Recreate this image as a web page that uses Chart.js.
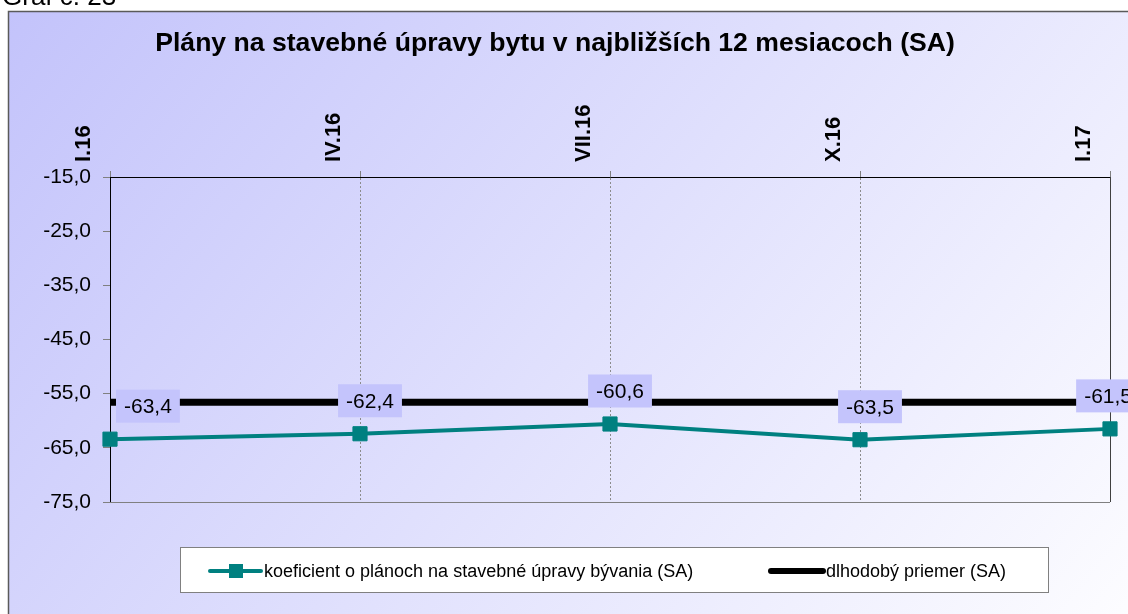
<!DOCTYPE html>
<html>
<head>
<meta charset="utf-8">
<script src="https://cdn.jsdelivr.net/npm/chart.js@4"></script>
<style>
  html, body { margin: 0; padding: 0; background: #fff; }
  canvas { display: block; }
</style>
</head>
<body>
<canvas id="chart" width="1128" height="614"></canvas>
<script>
// data
const labels = ['I.16', 'IV.16', 'VII.16', 'X.16', 'I.17'];
const koeficient = [-63.4, -62.4, -60.6, -63.5, -61.5];
const priemer = [-56.6, -56.6, -56.6, -56.6, -56.6];
const yMin = -75;
const yMax = -15;
const yStep = 10;

const titleText = 'Plány na stavebné úpravy bytu v najbližších 12 mesiacoch (SA)';
const seriesNames = ['koeficient o plánoch na stavebné úpravy bývania (SA)', 'dlhodobý priemer (SA)'];

const FONT = '"Liberation Sans", Arial, sans-serif';
Chart.defaults.font.family = FONT;
Chart.defaults.color = '#000';

const fmt = v => Number(v).toFixed(1).replace('.', ',');

const TITLE_SIZE = 26.6;
const TITLE_PAD = 28;

// page background, outer frame and the caption above it
const background = {
  id: 'background',
  beforeDraw(chart) {
    const ctx = chart.ctx;
    ctx.save();
    ctx.fillStyle = '#fff';
    ctx.fillRect(0, 0, chart.width, chart.height);
    const g = ctx.createLinearGradient(8, 11, 1000, 800);
    g.addColorStop(0, '#c3c3fb');
    g.addColorStop(1, '#fdfdff');
    ctx.fillStyle = g;
    ctx.fillRect(8, 11, chart.width, chart.height);
    ctx.strokeStyle = '#5a5a5a';
    ctx.lineWidth = 1.5;
    ctx.strokeRect(8.5, 11.5, chart.width, chart.height);
    ctx.fillStyle = '#000';
    ctx.font = '26px ' + FONT;
    ctx.textBaseline = 'alphabetic';
    ctx.fillText('Graf č. 23', 2, 5);
    ctx.restore();
  }
};

// bottom and right edges of the plot area
const frame = {
  id: 'frame',
  beforeDatasetsDraw(chart) {
    const {ctx, chartArea: a} = chart;
    ctx.save();
    ctx.lineWidth = 1;
    ctx.strokeStyle = '#808080';
    ctx.beginPath();
    ctx.moveTo(a.left, a.bottom + 0.5);
    ctx.lineTo(a.right, a.bottom + 0.5);
    ctx.stroke();
    ctx.strokeStyle = '#404040';
    ctx.beginPath();
    ctx.moveTo(a.right + 0.5, a.top);
    ctx.lineTo(a.right + 0.5, a.bottom);
    ctx.stroke();
    ctx.restore();
  }
};

// value boxes above the teal points
const valueLabels = {
  id: 'valueLabels',
  afterDatasetsDraw(chart) {
    const {ctx, chartArea: a} = chart;
    const meta = chart.getDatasetMeta(0);
    ctx.save();
    ctx.font = '21px ' + FONT;
    ctx.textBaseline = 'middle';
    ctx.textAlign = 'center';
    meta.data.forEach((pt, i) => {
      const txt = fmt(koeficient[i]);
      const w = ctx.measureText(txt).width + 16;
      const h = 33;
      let left = pt.x + 10 - w / 2;
      if (left < a.left + 6) left = a.left + 6;
      if (left + w > a.right + 30) left = a.right + 30 - w;
      const top = pt.y - 33 - h / 2;
      ctx.fillStyle = '#c4c4fc';
      ctx.fillRect(left, top, w, h);
      ctx.fillStyle = '#000';
      ctx.fillText(txt, left + w / 2, top + h / 2 + 1);
    });
    ctx.restore();
  }
};

// legend box at the bottom
const legendBox = {
  id: 'legendBox',
  afterDraw(chart) {
    const ctx = chart.ctx;
    ctx.save();
    ctx.fillStyle = '#fff';
    ctx.fillRect(180.5, 547.5, 868, 45);
    ctx.strokeStyle = '#808080';
    ctx.lineWidth = 1;
    ctx.strokeRect(180.5, 547.5, 868, 45);
    const y = 571;
    ctx.lineCap = 'round';
    ctx.strokeStyle = '#008080';
    ctx.lineWidth = 4;
    ctx.beginPath(); ctx.moveTo(210, y); ctx.lineTo(261, y); ctx.stroke();
    ctx.fillStyle = '#008080';
    ctx.fillRect(229, y - 7, 14, 14);
    ctx.strokeStyle = '#000';
    ctx.lineWidth = 6;
    ctx.beginPath(); ctx.moveTo(771, y); ctx.lineTo(823, y); ctx.stroke();
    ctx.fillStyle = '#000';
    ctx.font = '18px ' + FONT;
    ctx.textBaseline = 'middle';
    ctx.fillText(seriesNames[0], 264, y + 1);
    ctx.fillText(seriesNames[1], 826, y + 1);
    ctx.restore();
  }
};

new Chart(document.getElementById('chart'), {
  type: 'line',
  data: {
    labels: labels,
    datasets: [{
      label: seriesNames[0],
      data: koeficient,
      borderColor: '#008080',
      borderWidth: 4,
      pointStyle: 'rect',
      pointRadius: 10,
      pointBackgroundColor: '#008080',
      pointBorderColor: '#008080',
      pointBorderWidth: 1,
      tension: 0,
      clip: false
    }, {
      label: seriesNames[1],
      data: priemer,
      borderColor: '#000',
      borderWidth: 7,
      pointRadius: 0,
      tension: 0,
      clip: false
    }]
  },
  options: {
    responsive: false,
    animation: false,
    devicePixelRatio: 1,
    layout: { padding: { left: 0, right: 18, top: 0, bottom: 112 } },
    plugins: {
      legend: { display: false },
      tooltip: { enabled: false },
      title: {
        display: true,
        text: titleText,
        color: '#000',
        font: { size: TITLE_SIZE, weight: 'bold' },
        padding: { top: TITLE_PAD, bottom: 0 }
      }
    },
    scales: {
      x: {
        position: 'top',
        offset: false,
        ticks: {
          autoSkip: false,
          minRotation: 90,
          maxRotation: 90,
          padding: 9,
          color: '#000',
          font: { size: 22, weight: 'bold' }
        },
        grid: {
          color: '#8c8c8c',
          lineWidth: 1,
          drawTicks: true,
          tickLength: 6,
          tickColor: '#808080',
          tickBorderDash: []
        },
        border: { display: true, color: '#000', width: 1, dash: [2, 2] },
        afterFit(s) { s.height = 177 - (TITLE_PAD + TITLE_SIZE * 1.2); }
      },
      y: {
        min: yMin,
        max: yMax,
        ticks: {
          stepSize: yStep,
          padding: 12,
          color: '#000',
          font: { size: 21 },
          callback: v => fmt(v)
        },
        grid: {
          drawOnChartArea: false,
          drawTicks: true,
          tickLength: 7,
          tickColor: '#808080'
        },
        border: { display: true, color: '#000', width: 1 },
        afterFit(s) { s.width = 110; }
      }
    }
  },
  plugins: [background, frame, valueLabels, legendBox]
});
</script>
</body>
</html>
